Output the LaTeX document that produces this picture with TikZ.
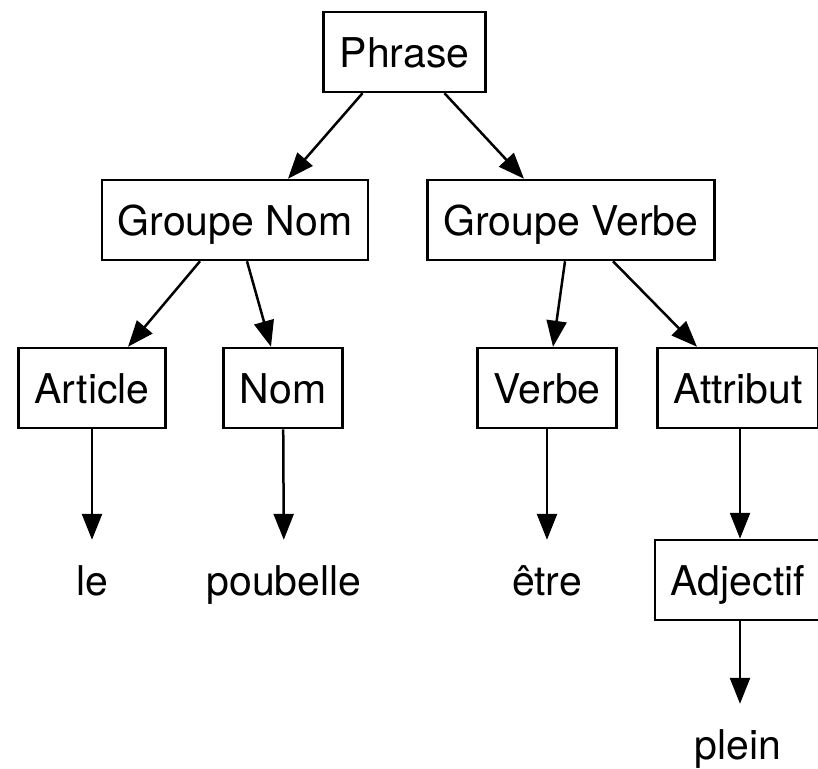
\documentclass[tikz,border=0pt]{standalone}
\usepackage{fontspec}
\setmainfont{TeX Gyre Heros}
\usetikzlibrary{arrows.meta}
\begin{document}
\begin{tikzpicture}
[
    x=1pt, y=-1pt,
    every node/.style={font=\fontsize{41}{49}\selectfont, minimum height=80pt,
        inner xsep=16pt, text height=33pt, text depth=3pt},
    box/.style={draw, line width=2.5pt},
    link/.style={line width=2.5pt, -{Triangle[length=26pt,width=20pt]}},
]
\useasboundingbox (0,0) rectangle (818,768);
\clip (0,0) rectangle (818,768);
\node[box] (phrase) at (404.5,52) {Phrase};
\node[box] (gnom) at (235,220) {Groupe Nom};
\node[box] (gverbe) at (571,220) {Groupe Verbe};
\node[box] (article) at (92,388) {Article};
\node[box] (nom) at (283,388) {Nom};
\node[box] (verbe) at (547,388) {Verbe};
\node[box] (attribut) at (738,388) {Attribut};
\node (le) at (92,580) {le};
\node (poubelle) at (284,580) {poubelle};
\node (etre) at (547,580) {être};
\node[box] (adjectif) at (738,580) {Adjectif};
\node (plein) at (738,744) {plein};

\draw[link] ([xshift=-42pt]phrase.south) -- ([xshift=53pt]gnom.north);
\draw[link] ([xshift=40pt]phrase.south) -- ([xshift=-47pt]gverbe.north);
\draw[link] ([xshift=-35pt]gnom.south) -- ([xshift=36pt]article.north);
\draw[link] ([xshift=12pt]gnom.south) -- ([xshift=-12pt]nom.north);
\draw[link] ([xshift=-6pt]gverbe.south) -- ([xshift=6pt]verbe.north);
\draw[link] ([xshift=42pt]gverbe.south) -- ([xshift=-41pt]attribut.north);
\draw[link] (article) -- (le);
\draw[link] (nom) -- (poubelle);
\draw[link] (verbe) -- (etre);
\draw[link] ([xshift=2pt]attribut.south) -- ([xshift=2pt]adjectif.north);
\draw[link] ([xshift=2pt]adjectif.south) -- ([xshift=2pt]plein.north);
\end{tikzpicture}
\end{document}
